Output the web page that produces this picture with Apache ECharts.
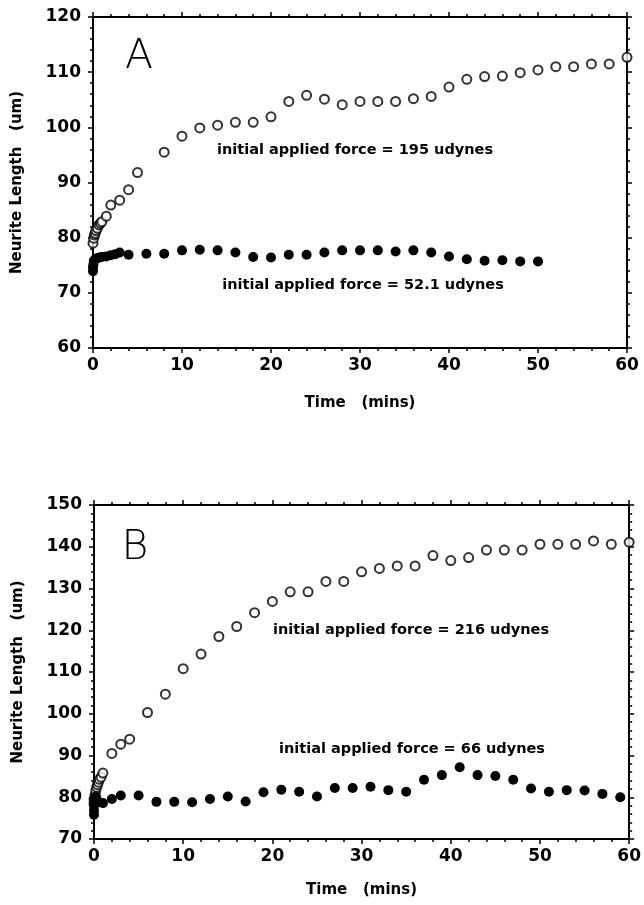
<!DOCTYPE html>
<html>
<head>
<meta charset="utf-8">
<script src="https://cdn.jsdelivr.net/npm/echarts@6/dist/echarts.min.js"></script>
<style>
html,body{margin:0;padding:0;background:#fff;}
#chart{width:644px;height:905px;}
</style>
</head>
<body>
<div id="chart"></div>
<script>
// Panel A — 195 udynes (open circles)
const aOpenTime = [0, 0.08, 0.17, 0.25, 0.33, 0.5, 0.67, 0.83, 1, 1.5, 2, 3, 4, 5, 8, 10, 12, 14, 16, 18, 20, 22, 24, 26, 28, 30, 32, 34, 36, 38, 40, 42, 44, 46, 48, 50, 52, 54, 56, 58, 60];
const aOpenLen  = [79.0, 79.9, 80.5, 80.8, 81.3, 81.7, 82.3, 82.6, 82.9, 83.9, 85.9, 86.8, 88.7, 91.8, 95.5, 98.4, 99.9, 100.4, 100.9, 100.9, 101.9, 104.7, 105.8, 105.1, 104.1, 104.7, 104.7, 104.7, 105.2, 105.6, 107.3, 108.7, 109.2, 109.3, 109.9, 110.4, 111.0, 111.0, 111.5, 111.5, 112.7];
// Panel A — 52.1 udynes (filled circles)
const aFillTime = [0, 0, 0.05, 0.1, 0.25, 0.5, 0.75, 1, 1.5, 2, 2.5, 3, 4, 6, 8, 10, 12, 14, 16, 18, 20, 22, 24, 26, 28, 30, 32, 34, 36, 38, 40, 42, 44, 46, 48, 50];
const aFillLen  = [73.9, 74.6, 75.2, 75.8, 76.1, 76.3, 76.4, 76.5, 76.6, 76.8, 77.0, 77.3, 76.9, 77.1, 77.1, 77.7, 77.8, 77.7, 77.3, 76.5, 76.4, 76.9, 76.9, 77.3, 77.7, 77.7, 77.7, 77.5, 77.7, 77.3, 76.6, 76.1, 75.8, 75.9, 75.7, 75.7];
// Panel B — 216 udynes (open circles)
const bOpenTime = [0, 0, 0.1, 0.2, 0.3, 0.4, 0.5, 0.6, 0.8, 1, 2, 3, 4, 6, 8, 10, 12, 14, 16, 18, 20, 22, 24, 26, 28, 30, 32, 34, 36, 38, 40, 42, 44, 46, 48, 50, 52, 54, 56, 58, 60];
const bOpenLen  = [78.5, 79.5, 80.5, 81.5, 82.4, 83.0, 83.6, 84.3, 84.8, 85.8, 90.5, 92.7, 93.9, 100.3, 104.7, 110.8, 114.3, 118.5, 120.9, 124.2, 126.9, 129.2, 129.2, 131.7, 131.7, 134.0, 134.8, 135.4, 135.4, 137.9, 136.7, 137.4, 139.2, 139.2, 139.2, 140.6, 140.6, 140.6, 141.4, 140.6, 141.1];
// Panel B — 66 udynes (filled circles)
const bFillTime = [0, 0, 0, 0.1, 0.2, 0.3, 0.5, 1, 2, 3, 5, 7, 9, 11, 13, 15, 17, 19, 21, 23, 25, 27, 29, 31, 33, 35, 37, 39, 41, 43, 45, 47, 49, 51, 53, 55, 57, 59];
const bFillLen  = [75.8, 76.8, 78.0, 79.2, 80.2, 79.5, 78.8, 78.6, 79.6, 80.4, 80.4, 78.9, 78.9, 78.8, 79.6, 80.2, 79.0, 81.2, 81.8, 81.3, 80.2, 82.2, 82.2, 82.5, 81.7, 81.3, 84.2, 85.3, 87.2, 85.3, 85.1, 84.2, 82.1, 81.3, 81.7, 81.6, 80.8, 80.0];

const xTicks = {min: 0, max: 60, interval: 10};
const yTicksA = {min: 60, max: 120, interval: 10};
const yTicksB = {min: 70, max: 150, interval: 10};

const labels = {
  a1: 'initial applied force = 195 udynes',
  a2: 'initial applied force = 52.1 udynes',
  b1: 'initial applied force = 216 udynes',
  b2: 'initial applied force = 66 udynes',
  xName: 'Time   (mins)',
  yName: 'Neurite Length   (um)'
};

const FONT = 'DejaVu Sans';
const pairs = (t, v) => t.map((x, i) => [x, v[i]]);

function xAx(gi, pos, ticks, nameGap) {
  const o = {
    type: 'value', gridIndex: gi, position: pos, min: ticks.min, max: ticks.max, interval: ticks.interval,
    axisLine: {show: true, onZero: false, lineStyle: {color: '#000', width: 2}},
    axisTick: {show: true, inside: false, length: 5, lineStyle: {color: '#000', width: 1.5}},
    minorTick: {show: true, splitNumber: 5, length: 3, lineStyle: {color: '#000', width: 1.5}},
    splitLine: {show: false},
    axisLabel: {show: pos === 'bottom', color: '#000', fontFamily: FONT, fontWeight: 'bold', fontSize: 17, margin: 9}
  };
  if (pos === 'bottom') {
    o.name = labels.xName; o.nameLocation = 'middle'; o.nameGap = nameGap;
    o.nameTextStyle = {color: '#000', fontFamily: FONT, fontWeight: 'bold', fontSize: 15};
  }
  return o;
}
function yAx(gi, pos, ticks) {
  const o = {
    type: 'value', gridIndex: gi, position: pos, min: ticks.min, max: ticks.max, interval: ticks.interval,
    axisLine: {show: true, onZero: false, lineStyle: {color: '#000', width: 2}},
    axisTick: {show: true, inside: false, length: 5, lineStyle: {color: '#000', width: 1.5}},
    minorTick: {show: true, splitNumber: 5, length: 3, lineStyle: {color: '#000', width: 1.5}},
    splitLine: {show: false},
    axisLabel: {show: pos === 'left', color: '#000', fontFamily: FONT, fontWeight: 'bold', fontSize: 17, margin: 12}
  };
  if (pos === 'left') {
    o.name = labels.yName; o.nameLocation = 'middle'; o.nameGap = 68;
    o.nameTextStyle = {color: '#000', fontFamily: FONT, fontWeight: 'bold', fontSize: 15};
  }
  return o;
}
function openSeries(xi, yi, t, v) {
  return {type: 'scatter', xAxisIndex: xi, yAxisIndex: yi, data: pairs(t, v), symbol: 'circle', symbolSize: 9, clip: false,
    itemStyle: {color: '#fff', borderColor: '#000', borderWidth: 2}};
}
function fillSeries(xi, yi, t, v) {
  return {type: 'scatter', xAxisIndex: xi, yAxisIndex: yi, data: pairs(t, v), symbol: 'circle', symbolSize: 10, clip: false,
    itemStyle: {color: '#000', borderColor: '#000', borderWidth: 0, opacity: 1}};
}
function txt(x, y, s, size, weight) {
  return {type: 'text', x: x, y: y, style: {text: s, fill: '#000', font: (weight || 'bold') + ' ' + size + 'px "' + FONT + '"', textAlign: 'center', textVerticalAlign: 'middle'}};
}

const chart = echarts.init(document.getElementById('chart'), null, {renderer: 'canvas'});
chart.setOption({
  animation: false,
  backgroundColor: '#fff',
  grid: [
    {left: 93, top: 17, width: 534, height: 331},
    {left: 94, top: 505, width: 540, height: 334}
  ],
  xAxis: [xAx(0, 'bottom', xTicks, 48), xAx(0, 'top', xTicks), xAx(1, 'bottom', xTicks, 44), xAx(1, 'top', xTicks)],
  yAxis: [yAx(0, 'left', yTicksA), yAx(0, 'right', yTicksA), yAx(1, 'left', yTicksB), yAx(1, 'right', yTicksB)],
  series: [
    openSeries(0, 0, aOpenTime, aOpenLen),
    fillSeries(0, 0, aFillTime, aFillLen),
    openSeries(2, 2, bOpenTime, bOpenLen),
    fillSeries(2, 2, bFillTime, bFillLen)
  ],
  graphic: [
    txt(355, 150, labels.a1, 14.5),
    txt(363, 285, labels.a2, 14.5),
    txt(411, 630, labels.b1, 14.5),
    txt(412, 749, labels.b2, 14.5),
    {type: 'text', x: 139, y: 57, style: {text: 'A', fill: '#000', font: '200 41px "DejaVu Sans"', textAlign: 'center', textVerticalAlign: 'middle'}},
    {type: 'text', x: 135, y: 548, style: {text: 'B', fill: '#000', font: '200 41px "DejaVu Sans"', textAlign: 'center', textVerticalAlign: 'middle'}}
  ]
});
</script>
</body>
</html>
